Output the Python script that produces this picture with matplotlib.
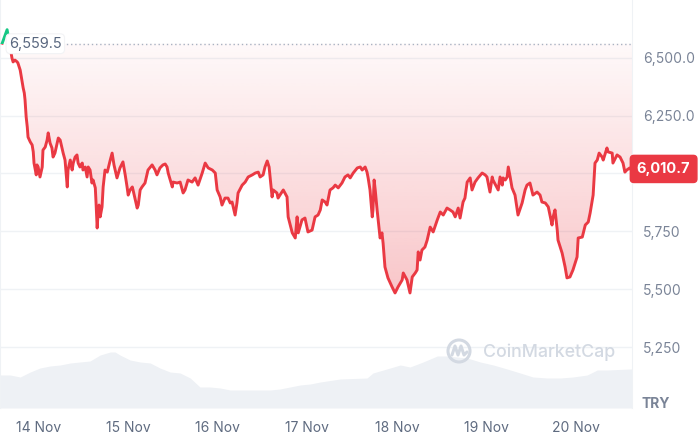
import matplotlib
matplotlib.use("Agg")
import matplotlib.pyplot as plt
import numpy as np
from matplotlib.patches import Rectangle, PathPatch, Ellipse
from matplotlib.lines import Line2D
from matplotlib.transforms import blended_transform_factory

plt.rcParams['font.family'] = ['Inter', 'DejaVu Sans']

# ---- data: hours relative to 14 Nov 00:00, price in TRY ----
hours = [-9.6, -8.3, -7.0, -6.7, -6.2, -5.6, -5.4, -4.8, -4.5, -4.0, -3.7, -3.5, -3.2, -2.9, -2.7, -2.1, -1.6, -1.3, -1.1, -0.5, -0.3,
         0.0, 0.5, 1.1, 1.3, 1.9, 2.4, 2.7, 3.2, 3.7, 4.0, 4.5, 5.4, 5.9, 6.7, 7.2, 7.8, 8.0, 8.6, 9.1, 9.4, 9.9, 10.4, 10.7, 11.2,
         11.8, 12.0, 12.6, 13.1, 13.4, 13.9, 14.4, 14.7, 15.3, 15.5, 15.8, 16.1, 16.3, 16.6, 17.1, 17.4, 17.9, 18.5, 19.3,
         19.8, 20.3, 21.1, 21.9, 22.7, 23.3, 23.8, 24.1, 24.6, 25.2, 25.4, 26.0, 26.5, 26.8, 27.3, 27.8, 28.6, 29.4, 30.5, 31.3,
         31.8, 32.6, 33.4, 34.0, 34.5, 34.8, 35.9, 36.1, 37.2, 38.0, 38.8, 39.3, 40.1, 41.2, 42.0, 42.8, 43.9, 44.7, 45.5, 46.6,
         47.4, 47.9, 48.7, 49.2, 50.0, 50.8, 51.4, 51.9, 52.7, 53.2, 53.5, 54.6, 55.4, 56.2, 57.3, 58.1, 58.9, 59.4, 60.2, 60.7,
         61.3, 61.8, 62.6, 62.9, 63.9, 64.2, 64.7, 65.6, 66.6, 66.9, 68.0, 68.8, 69.3, 69.6, 70.6, 71.4, 72.2, 73.3, 74.1, 74.9,
         75.5, 76.0, 76.8, 77.3, 78.1, 78.9, 79.5, 80.3, 81.3, 82.1, 82.9, 83.5, 84.3, 85.4, 86.2, 86.7, 87.5, 88.0, 88.3, 88.8,
         89.4, 89.6, 89.9, 90.2, 90.7, 91.5, 92.0, 92.3, 92.8, 93.6, 94.7, 95.5, 96.3, 97.4, 97.7, 98.7, 99.5, 100.1, 100.9,
         101.4, 101.7, 102.2, 102.7, 103.5,
         104.1, 104.9, 105.7, 106.8, 107.6, 108.4, 109.4, 110.2, 111.0, 111.6, 112.4, 112.9, 113.4, 113.7, 114.2, 114.8, 115.6,
         116.1, 116.9, 117.7, 118.8, 119.6, 120.1, 120.9, 121.5, 121.7, 123.1, 123.6, 124.2, 124.4, 125.0, 125.5, 125.8, 126.3,
         126.8, 127.6, 128.4, 129.5, 130.3, 130.8, 131.6,
         132.4, 133.5, 134.3, 134.8, 135.7, 136.5, 137.5, 137.8, 138.3, 138.9, 139.1, 140.2, 141.0, 141.5, 142.3, 143.1, 144.2,
         144.5, 145.6, 146.4, 147.2, 147.7, 148.2, 148.5, 149.0, 149.6, 150.1, 150.9, 151.2, 152.2, 152.5, 153.6, 153.8, 154.9,
         155.7, 156.5, 157.0, 157.5, 158.3, 158.9]
prices = [6562, 6620, 6498, 6481, 6489, 6481, 6476, 6446, 6416, 6369, 6347, 6317, 6244, 6200, 6157, 6136, 6123, 6093, 6045, 5994, 6037,
          6028, 5985, 6028, 6101, 6114, 6144, 6175, 6131, 6110, 6071, 6088, 6153, 6144, 6088, 6058, 5942, 6015, 6058, 6015, 6045, 6071, 6080, 6045, 6028,
          6045, 6015, 6028, 5985, 6028, 6015, 5959, 5972, 5938, 5873, 5765, 5843, 5864, 5813, 5856, 5942, 6015, 6006, 6058,
          6088, 6037, 5981, 6024, 6050, 5994, 5942, 5907, 5929, 5942, 5929, 5886, 5851, 5864, 5929, 5942, 5959, 6015, 6037, 6015,
          5994, 6024, 6037, 6041, 6028, 6002, 5942, 5963, 5959, 5963, 5916, 5929, 5972, 5963, 5981, 5950, 6002, 6045, 6024, 6015,
          6002, 5929, 5899, 5864, 5894, 5894, 5873, 5877, 5821, 5873, 5916, 5950, 5963, 5985, 5994, 6002, 6006, 5985, 5994, 6028,
          6054, 6028, 5899, 5929, 5916, 5894, 5907, 5929, 5899, 5813, 5744, 5722, 5813, 5744, 5800, 5808, 5748, 5756, 5813, 5821,
          5843, 5886, 5877, 5864, 5929, 5938, 5950, 5938, 5959, 5985, 5994, 5981, 6002, 6024, 6028, 6015, 6028, 6006, 5981, 5929,
          5813, 5843, 5972, 5929, 5843, 5722, 5744, 5700, 5597, 5550, 5511, 5485, 5511, 5541, 5571, 5541, 5485, 5554, 5571,
          5584, 5662, 5627, 5670, 5683,
          5713, 5769, 5748, 5800, 5834, 5821, 5851, 5843, 5834, 5813, 5851, 5808, 5851, 5877, 5894, 5963, 5981,
          5929, 5963, 5981, 6002, 5994, 5985, 5920, 5985, 5972, 5929, 5985, 5950, 5981, 5972, 5985, 6028, 5985,
          5938, 5907, 5821, 5873, 5929, 5950, 5959,
          5907, 5920, 5907, 5877, 5873, 5856, 5778, 5813, 5843, 5756, 5713, 5657, 5597, 5550, 5554, 5584, 5640,
          5722, 5726, 5778, 5791, 5830, 5877, 5907, 6045, 6058, 6088, 6071, 6058, 6110, 6093, 6088, 6045, 6080,
          6071, 6045, 6006, 6015, 6024, 6010.7]

vol_hours = [-10.2, -7.5, -4.8, -2.1, 0.5, 3.2, 5.9, 8.6, 11.2, 13.9, 16.6, 19.3, 20.6, 21.9, 24.6, 27.3, 30.0, 32.6, 35.3,
             38.0, 40.7, 43.3, 46.0, 48.7, 51.4, 54.0, 59.4, 62.1, 64.7, 67.4, 70.1, 72.8, 75.5,
             80.8, 88.0, 89.6, 94.2, 96.9, 99.5, 103.0, 106.8, 109.4, 112.1, 114.8, 118.3, 121.8, 125.5, 129.0, 132.4,
             136.2, 139.7, 143.1, 146.9, 149.6, 152.2, 158.3, 158.9]
volumes = [3.3, 3.3, 3.1, 3.6, 4.0, 4.2, 4.3, 4.5, 4.6, 4.7, 5.3, 5.6, 5.6, 5.3, 4.8, 4.6, 4.5, 4.0, 3.6,
           3.5, 3.0, 2.1, 2.1, 2.0, 1.8, 1.8, 1.8, 1.8, 1.9, 2.1, 2.3, 2.4, 2.6,
           2.9, 3.0, 3.5, 4.0, 4.3, 4.1, 4.6, 5.2, 5.2, 5.1, 5.0, 4.6, 4.3, 3.9, 3.5, 3.1,
           3.0, 3.0, 3.1, 3.3, 3.8, 3.8, 3.9, 3.9]

open_price = 6559.5
last_price = 6010.7
yticks = [5250, 5500, 5750, 6000, 6250, 6500]
ytick_labels = ["5,250", "5,500", "5,750", "", "6,250.0", "6,500.0"]
xticks = [0, 24, 48, 72, 96, 120, 144]
xtick_labels = ["14 Nov", "15 Nov", "16 Nov", "17 Nov", "18 Nov", "19 Nov", "20 Nov"]

RED = '#ea3943'
GREEN = '#16c784'
GRID = '#eff2f5'
LABEL = '#7a8497'

fig = plt.figure(figsize=(7, 4.36), dpi=100)
rect = [0, 28 / 436, 632 / 700, 408 / 436]
axv = fig.add_axes(rect)
ax = fig.add_axes(rect)
ax.set_facecolor('none')

xmin, xmax = -10.2, 158.9
ymin, ymax = 4989, 6748

# volume
axv.fill_between(vol_hours, 0, volumes, color='#eef1f5', lw=0)
axv.set_xlim(xmin, xmax)
axv.set_ylim(0, 40.8)
axv.axis('off')

# gradient fill between line and open price
h = np.array(hours)
p = np.array(prices, dtype=float)
poly = ax.fill_between(h, p, open_price, where=p <= open_price + 200, interpolate=True,
                       color='none', lw=0)
rgb = matplotlib.colors.to_rgb(RED)
rgba = np.zeros((256, 1, 4))
rgba[..., 0], rgba[..., 1], rgba[..., 2] = rgb
yy = np.linspace(5450, open_price, 256)
rgba[:, 0, 3] = np.clip(0.03 + (open_price - yy) * 0.00024, 0, 1)
im = ax.imshow(rgba, extent=[xmin, xmax, 5450, open_price], origin='lower',
               aspect='auto', zorder=1, interpolation='bilinear')
if poly.get_paths():
    pp = PathPatch(poly.get_paths()[0], transform=ax.transData, facecolor='none', edgecolor='none')
    ax.add_patch(pp)
    im.set_clip_path(pp)

# price line, coloured by position relative to the open price
ln_red, = ax.plot(h, p, color=RED, lw=2.1, zorder=3, solid_joinstyle='round')
ln_green, = ax.plot(h, p, color=GREEN, lw=2.1, zorder=3, solid_joinstyle='round')
below = Rectangle((xmin, ymin), xmax - xmin, open_price - ymin, transform=ax.transData, fc='none', ec='none')
above = Rectangle((xmin, open_price), xmax - xmin, ymax - open_price, transform=ax.transData, fc='none', ec='none')
ax.add_patch(below)
ax.add_patch(above)
ln_red.set_clip_path(below)
ln_green.set_clip_path(above)

# dotted open-price line
ax.hlines(open_price, 5.3, xmax, colors='#a9b2c2', linestyles=(0, (1, 2)), lw=1, zorder=2)

ax.set_xlim(xmin, xmax)
ax.set_ylim(ymin, ymax)

ax.yaxis.tick_right()
ax.set_yticks(yticks)
ax.set_yticklabels(ytick_labels)
ax.set_xticks(xticks)
ax.set_xticklabels(xtick_labels)
ax.tick_params(axis='y', length=0, pad=8, labelsize=10, labelcolor=LABEL)
ax.tick_params(axis='x', length=0, pad=9, labelsize=10, labelcolor='#5f6b80')
ax.grid(axis='y', color=GRID, lw=1, zorder=0)
ax.set_axisbelow(True)
for s in ['top', 'bottom']:
    ax.spines[s].set_visible(False)
ax.spines['right'].set_color(GRID)
ax.spines['left'].set_color(GRID)

# open-price label
bt = blended_transform_factory(ax.transAxes, ax.transData)
ax.text(9 / 632, open_price, "6,559.5", transform=bt, ha='left', va='center', fontsize=10.5,
        color='#58667e', zorder=5,
        bbox=dict(boxstyle='round,pad=0.2,rounding_size=0.3', fc='white', ec='#f2f3f5', lw=0.8))

# last-price tag
ax.annotate("6,010.7", xy=(1.0, last_price), xycoords=bt, xytext=(3.5, 1.5), textcoords='offset points',
            ha='left', va='center', fontsize=10.5, fontweight='bold', color='white', zorder=6,
            annotation_clip=False,
            bbox=dict(boxstyle='round,pad=0.45,rounding_size=0.25', fc=RED, ec=RED))

fig.text(641 / 700, 1 - 404 / 436, "TRY", ha='left', va='center', fontsize=10, fontweight='bold', color=LABEL)

# watermark
wm = '#d3d9e2'
fig.patches.append(Ellipse((459 / 700, 1 - 351 / 436), 22 / 700, 22 / 436, transform=fig.transFigure,
                           fc='none', ec=wm, lw=2.2))
mx = np.array([452, 455, 458, 461, 464, 467]) / 700
my = 1 - np.array([355, 346, 355, 346, 355, 352]) / 436
fig.lines.append(Line2D(mx, my, transform=fig.transFigure, color=wm, lw=2.2,
                        solid_joinstyle='round', solid_capstyle='round'))
fig.text(483 / 700, 1 - 352 / 436, "CoinMarketCap", ha='left', va='center', fontsize=12.8,
         fontweight='medium', color=wm)

fig.savefig("out.png", dpi=100, facecolor='white')
